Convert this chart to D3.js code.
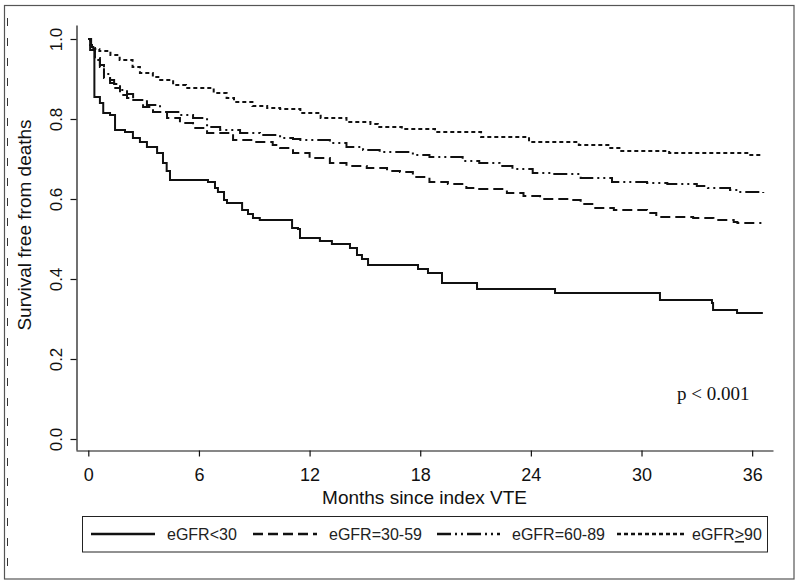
<!DOCTYPE html>
<html>
<head>
<meta charset="utf-8">
<script src="https://cdn.jsdelivr.net/npm/d3@7"></script>
<style>
  html, body { margin: 0; padding: 0; background: #fff; }
  svg { display: block; }
</style>
</head>
<body>
<svg id="chart" width="800" height="584"></svg>
<script>
// ---------------- data ----------------
const categories = ["eGFR<30", "eGFR=30-59", "eGFR=60-89", "eGFR>90"];
const xTicks = [0, 6, 12, 18, 24, 30, 36];
const yTicks = [0, 0.2, 0.4, 0.6, 0.8, 1.0];

const timesLt30 = [0, 0.1, 0.33, 0.63, 0.81, 1.18, 1.45, 1.99, 2.42, 2.8, 3.18, 3.73, 4.05, 4.25, 4.43, 6.49, 6.87, 7.03, 7.36, 7.52, 8.34, 8.66, 8.93, 9.3, 11.05, 11.37, 11.48, 12.56, 13.21, 14.19, 14.57, 14.84, 15.17, 17.88, 18.42, 19.18, 21.08, 25.31, 31.0, 33.82, 33.88, 35.18, 36.58];
const survLt30  = [1.0, 0.9725, 0.855, 0.84, 0.815, 0.81, 0.7725, 0.7675, 0.7525, 0.7425, 0.73, 0.715, 0.69, 0.67, 0.6475, 0.6425, 0.6275, 0.6175, 0.5975, 0.59, 0.5725, 0.5625, 0.5525, 0.5475, 0.5275, 0.525, 0.5025, 0.495, 0.4875, 0.4775, 0.46, 0.45, 0.435, 0.425, 0.415, 0.39, 0.375, 0.365, 0.3475, 0.34, 0.3225, 0.315, 0.315];

const times3059 = [0, 0.15, 0.36, 0.63, 0.85, 1.18, 1.4, 1.72, 2.1, 2.26, 2.97, 3.51, 4.27, 4.97, 5.68, 6.44, 7.85, 8.93, 10.0, 10.4, 11.1, 12.0, 13.1, 14.0, 15.1, 16.2, 16.9, 17.6, 18.5, 19.5, 20.5, 21.2, 22.7, 23.6, 24.5, 26.3, 26.7, 27.4, 28.5, 30.3, 30.8, 32.8, 33.9, 35.0, 35.2, 36.5];
const surv3059  = [1.0, 0.9775, 0.9475, 0.93, 0.9025, 0.89, 0.8775, 0.86, 0.8525, 0.8475, 0.83, 0.8175, 0.8025, 0.79, 0.7775, 0.765, 0.7475, 0.7425, 0.735, 0.7275, 0.715, 0.7025, 0.69, 0.6825, 0.6775, 0.67, 0.6675, 0.655, 0.6425, 0.6375, 0.6275, 0.625, 0.615, 0.6075, 0.6, 0.5975, 0.5875, 0.5775, 0.5725, 0.565, 0.555, 0.5525, 0.5475, 0.5425, 0.54, 0.54];

const times6089 = [0, 0.15, 0.36, 0.63, 0.85, 1.18, 1.4, 1.72, 2.1, 2.43, 3.18, 3.89, 4.97, 5.68, 6.44, 7.15, 8.23, 9.31, 10.4, 11.1, 11.5, 13.1, 14.0, 14.9, 15.8, 17.6, 18.5, 20.3, 21.2, 22.3, 23.0, 24.1, 25.2, 26.7, 28.4, 30.3, 31.4, 33.0, 33.6, 34.8, 35.3, 36.6];
const surv6089  = [1.0, 0.98, 0.9525, 0.935, 0.9125, 0.8975, 0.8875, 0.8725, 0.8625, 0.8475, 0.835, 0.8175, 0.81, 0.8025, 0.78, 0.7725, 0.765, 0.76, 0.7525, 0.75, 0.7475, 0.74, 0.73, 0.7225, 0.7175, 0.71, 0.705, 0.695, 0.69, 0.6825, 0.675, 0.665, 0.6625, 0.6525, 0.6425, 0.64, 0.6375, 0.6325, 0.6275, 0.6225, 0.6175, 0.615];

const timesGe90 = [0, 0.1, 0.2, 0.6, 1.2, 1.7, 2.4, 2.8, 3.5, 3.9, 4.6, 5.3, 6.8, 7.5, 7.9, 8.9, 9.7, 10.4, 11.5, 12.6, 14.0, 15.3, 15.7, 17.0, 18.8, 21.3, 23.9, 26.6, 28.2, 28.8, 31.5, 35.9, 36.55];
const survGe90  = [1.0, 0.985, 0.975, 0.97, 0.96, 0.9475, 0.93, 0.915, 0.905, 0.8975, 0.885, 0.8775, 0.865, 0.8525, 0.8425, 0.8325, 0.8275, 0.825, 0.815, 0.8025, 0.7925, 0.7875, 0.78, 0.775, 0.7675, 0.755, 0.7425, 0.735, 0.7275, 0.72, 0.715, 0.71, 0.71];

// ---------------- drawing ----------------
const svg = d3.select("#chart");
const sans = "'Liberation Sans', Arial, sans-serif";
const serif = "'Liberation Serif', 'Times New Roman', serif";
const ink = "#111";

// outer frame
svg.append("rect").attr("x", 4.5).attr("y", 5.5).attr("width", 789.5).attr("height", 573.5)
  .attr("fill", "none").attr("stroke", "#555").attr("stroke-width", 1.2);
svg.append("line").attr("x1", 7.5).attr("x2", 7.5).attr("y1", 18).attr("y2", 578)
  .attr("stroke", "#333").attr("stroke-width", 1).attr("stroke-dasharray", "8,12");

const x = d3.scaleLinear().domain([-0.667, 37.13]).range([76, 773]);
const y = d3.scaleLinear().domain([-0.0275, 1.035]).range([450, 25]);

// x axis
const gx = svg.append("g").attr("transform", "translate(0,450.5)")
  .call(d3.axisBottom(x).tickValues(xTicks).tickSize(6).tickSizeOuter(0).tickPadding(8).tickFormat(d3.format("d")));
gx.select(".domain").attr("stroke", ink).attr("stroke-width", 1.2);
gx.selectAll(".tick line").attr("stroke", ink).attr("stroke-width", 1.2);
gx.selectAll(".tick text").attr("font-family", sans).attr("font-size", 18).attr("fill", ink)
  .attr("y", 13).attr("dy", "0.95em");

// y axis
const gy = svg.append("g").attr("transform", "translate(76.5,0)")
  .call(d3.axisLeft(y).tickValues(yTicks).tickSize(6).tickSizeOuter(0).tickFormat(d3.format(".1f")));
gy.select(".domain").attr("stroke", ink).attr("stroke-width", 1.2);
gy.selectAll(".tick line").attr("stroke", ink).attr("stroke-width", 1.2);
gy.selectAll(".tick text").attr("font-family", sans).attr("font-size", 17).attr("fill", ink)
  .attr("x", null).attr("dy", null)
  .attr("text-anchor", "middle")
  .attr("transform", "translate(-14.5,0) rotate(-90)");

// axis titles
svg.append("text").attr("x", 424.5).attr("y", 504).attr("text-anchor", "middle")
  .attr("font-family", sans).attr("font-size", 19).attr("fill", ink).text("Months since index VTE");
svg.append("text").attr("transform", "translate(31,225) rotate(-90)").attr("text-anchor", "middle")
  .attr("font-family", sans).attr("font-size", 19).attr("fill", ink).text("Survival free from deaths");

// curves
const series = [
  { name: categories[0], t: timesLt30, s: survLt30, dash: null },
  { name: categories[1], t: times3059, s: surv3059, dash: "10,5" },
  { name: categories[2], t: times6089, s: surv6089, dash: "14,4,2,4,2,4" },
  { name: categories[3], t: timesGe90, s: survGe90, dash: "4,3" }
];
const line = d3.line().x(d => x(d[0])).y(d => y(d[1])).curve(d3.curveStepAfter);
series.forEach(sr => {
  const pts = sr.t.map((t, i) => [t, sr.s[i]]);
  svg.append("path").datum(pts).attr("d", line)
    .attr("fill", "none").attr("stroke", ink).attr("stroke-width", 2)
    .attr("stroke-dasharray", sr.dash);
});

// p-value
svg.append("text").attr("x", 677).attr("y", 400).attr("font-family", serif).attr("font-size", 19)
  .attr("fill", ink).text("p < 0.001");

// legend
svg.append("rect").attr("x", 82.5).attr("y", 516.5).attr("width", 685).attr("height", 35.5)
  .attr("fill", "#fff").attr("stroke", "#222").attr("stroke-width", 1);
const legLines = [[91, 155], [253, 317], [437, 500], [617, 687]];
const legText = [167, 329, 512, 692];
series.forEach((sr, i) => {
  svg.append("line").attr("x1", legLines[i][0]).attr("x2", legLines[i][1]).attr("y1", 534).attr("y2", 534)
    .attr("stroke", ink).attr("stroke-width", 2.5).attr("stroke-dasharray", sr.dash);
  const t = svg.append("text").attr("x", legText[i]).attr("y", 540)
    .attr("font-family", sans).attr("font-size", 16).attr("fill", "#222");
  if (i === 3) {
    t.append("tspan").text("eGFR");
    t.append("tspan").attr("text-decoration", "underline").text(">");
    t.append("tspan").text("90");
  } else {
    t.text(sr.name);
  }
});
</script>
</body>
</html>
